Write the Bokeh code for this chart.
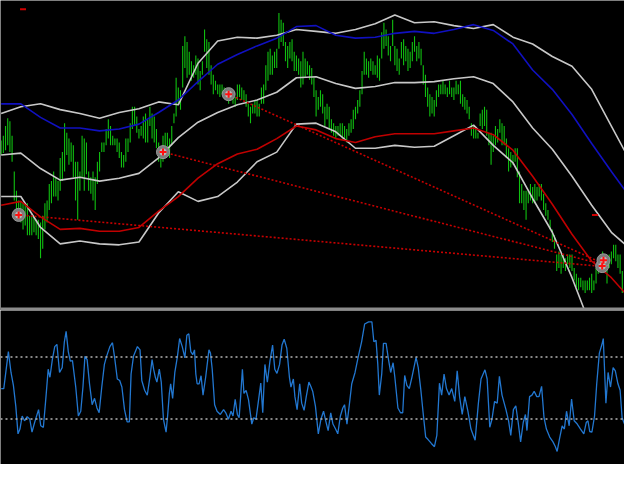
from bokeh.plotting import figure
from bokeh.layouts import column
from bokeh.models import Range1d, Span, BoxAnnotation
from bokeh.embed import file_html
from bokeh.resources import INLINE

# ---------------- price bars (points) ----------------
bar_high = [175,180,190,198,195,180,143,123,113,112,
            110,110,110,97,97,97,93,93,90,97,
            110,113,130,133,143,137,133,157,163,193,
            183,177,173,170,153,153,143,180,177,173,
            143,137,143,137,153,163,173,173,187,197,
            190,180,177,177,173,163,160,177,177,193,
            210,210,200,187,190,200,203,197,210,203,
            200,187,173,167,180,183,183,177,190,203,
            240,230,227,273,283,277,267,257,253,263,
            260,247,257,290,280,277,253,243,237,233,
            233,233,230,227,223,227,223,220,233,233,
            230,227,223,213,210,213,217,217,213,230,
            233,253,267,270,263,267,270,307,300,297,
            277,273,277,280,267,263,260,257,267,260,
            257,
            253,250,240,227,220,227,223,210,213,210,
            197,193,190,190,193,193,190,187,193,197,
            207,210,217,227,247,267,260,257,260,257,
            253,263,260,287,297,290,283,273,300,273,
            270,260,277,280,273,270,267,277,283,273,
            277,270,253,243,230,223,220,217,227,233,
            233,237,233,230,237,230,230,237,233,237,
            223,220,217,210,193,190,187,183,203,207,
            210,207,183,183,180,190,187,197,193,190,
            177,167,163,160,167,167,143,130,123,123,
            123,130,127,130,127,130,130,120,110,103,
            93,83,77,57,60,57,57,53,57,57,
            57,43,37,33,33,30,30,30,33,37,
            30,43,53,57,60,57,50,57,60,67,
            67,57,57,40]
bar_low = [160,162,165,170,163,153,113,97,93,90,
           83,87,77,77,77,80,77,73,53,63,
           83,90,103,110,117,117,113,123,133,143,
           160,150,153,137,113,93,123,137,123,140,
           123,120,113,103,130,143,163,163,170,177,
           170,170,170,163,157,147,147,153,163,173,
           187,190,183,177,180,177,173,173,190,177,
           173,167,153,147,153,160,160,157,170,193,
           200,213,207,230,250,240,243,237,240,243,
           233,227,243,267,250,243,233,223,227,223,
           220,223,220,217,213,217,213,210,217,220,
           217,217,210,200,193,203,203,200,200,213,
           213,227,237,243,243,250,250,270,277,273,
           257,250,260,257,247,247,243,230,233,240,
           243,
           238,233,220,200,207,210,203,190,197,187,
           183,180,177,180,180,177,177,173,180,183,
           187,197,203,210,223,243,243,240,247,243,
           243,240,237,260,270,273,263,257,273,253,
           247,243,260,253,257,247,250,257,267,257,
           260,253,233,220,210,200,203,200,210,220,
           223,223,223,220,223,220,217,223,223,213,
           210,207,203,197,180,177,177,177,190,187,
           190,180,170,150,163,170,173,183,170,170,
           157,143,147,150,153,137,110,110,103,93,
           110,113,110,110,113,117,113,103,97,93,
           83,70,63,40,43,37,43,40,47,43,
           40,30,23,20,23,20,17,20,20,17,
           20,27,37,40,43,40,27,43,47,53,
           50,43,37,17]

# ---------------- indicator lines (sampled every 9 bars) ----------------
line_t = list(range(0, 289, 9))
upper_band = [203,210,213,207,203,198,204,208,215,212,255,278,282,281,284,290,
              288,286,290,296,305,297,298,294,291,295,282,275,262,252,228,190,152]
middle_band = [160,162,146,134,137,133,136,141,157,178,194,204,212,217,225,240,
               241,234,229,231,235,235,236,239,241,234,215,188,166,138,108,80,62]
lower_band = [117,117,85,68,71,68,67,70,100,122,112,117,132,153,163,192,
              193,184,167,167,170,168,169,180,191,170,152,115,80,33,-20,-80,-140]
ma_red = [108,112,96,83,84,81,81,85,102,117,136,151,161,166,177,190,
          186,177,173,179,182,182,182,185,188,181,165,138,109,78,50,33,10]
ma_blue = [213,213,199,188,188,185,187,192,204,217,236,254,264,273,281,293,
           294,284,281,282,286,288,286,290,295,289,275,248,228,202,172,143,115]

# signals and trend lines
signal_t = [8, 74, 104, 274.8, 275.4]
signal_p = [98, 163, 223, 45, 51]
trend_t0 = [8, 74, 104]
trend_p0 = [98, 163, 223]
trend_t1 = [273, 273, 273]
trend_p1 = [45, 48, 50]
stop_t = [10, 271.5]
stop_p = [311, 98]

# ---------------- oscillator ----------------
osc_t = [0.0,1.2,3.3,4.5,5.6,6.7,7.7,8.6,9.6,10.7,
         11.9,13.1,14.1,15.3,17.1,18.1,19.3,20.5,21.5,22.3,
         23.4,24.5,25.5,26.7,27.9,28.9,29.7,30.7,31.6,32.6,
         34.1,35.3,36.4,37.4,38.3,39.3,40.4,41.6,42.7,43.8,
         44.8,46.0,47.2,48.2,49.7,50.9,51.9,53.1,54.2,55.2,
         56.4,57.6,58.6,59.4,60.5,62.3,63.5,64.3,65.6,66.8,
         68.0,69.0,69.7,70.5,71.2,72.3,73.2,74.2,75.4,76.1,
         76.9,77.5,78.4,79.4,80.6,81.6,82.8,84.0,84.9,85.8,
         86.7,87.6,88.4,89.0,89.6,90.5,91.4,92.3,93.5,95.0,
         95.7,96.5,97.6,98.7,100.2,101.7,102.7,103.9,105.1,106.0,
         107.0,108.0,108.8,109.5,110.3,111.0,112.0,113.1,114.6,115.5,
         116.5,117.5,118.7,119.6,120.6,121.7,122.9,124.1,125.1,126.1,
         127.3,128.4,129.4,130.6,131.8,132.5,133.6,134.3,135.3,136.5,
         137.4,138.5,139.5,140.7,141.7,142.5,
         143.7,145.0,146.2,147.4,148.4,149.5,150.7,151.7,152.9,153.9,
         155.1,156.2,157.0,158.1,159.1,160.3,161.8,163.3,164.8,166.2,
         168.0,169.5,170.4,171.4,172.2,172.9,174.0,174.8,176.0,177.1,
         178.1,179.2,180.0,181.4,182.6,183.6,184.5,185.5,186.6,187.8,
         189.7,190.7,191.9,193.0,194.1,195.2,196.7,198.1,199.2,200.4,
         201.4,202.5,203.6,204.8,206.0,207.4,208.5,209.6,210.8,212.0,
         213.4,214.8,216.7,218.2,219.4,221.2,222.2,223.4,224.4,225.6,
         226.8,227.8,229.0,230.8,232.0,233.0,234.2,235.3,236.4,237.5,
         238.7,239.7,240.4,241.6,242.7,243.7,244.9,245.9,247.1,248.2,
         249.3,250.8,252.3,253.4,254.2,255.3,256.5,257.5,258.5,259.7,
         260.8,262.0,263.4,264.9,266.4,267.5,268.3,269.1,270.1,271.3,
         272.3,273.5,274.6,275.3,276.5,277.5,278.6,279.8,280.8,282.0,
         283.0,283.9,285.0]
osc_v = [49.6,49.6,73.5,60,51.7,38.1,20.4,23.5,31.9,28.8,
         31.5,29.8,21.5,27.7,36,25.6,24.6,44.4,62.1,56.9,
         68.3,76.7,78.1,60,63.1,79.8,86.5,73.5,67.3,67.7,
         50.6,31.9,35,50.6,70.4,68.3,52.7,39.2,43.3,37.1,
         34,50.6,65.2,70.4,76.7,79.2,69.4,55.8,54.8,50.6,
         36,28.1,28.1,59,70.4,76.7,74.6,54.8,48.5,45.4,
         56.9,68.3,62.1,56.9,53.8,62.1,53.8,29.8,21.5,31.9,
         46.5,52.7,43.3,60,70.4,81.9,76.7,69.4,84,85,
         73.5,71.5,74.6,59,52.7,52.7,57.9,45.4,56.9,74.6,
         72.5,62.1,39.2,35,32.9,36,34,29.8,35,31.9,
         42.7,32.9,30.8,44.4,62.1,46.5,48.5,42.3,26.7,30.8,
         29.8,40.2,53.1,34,65.2,53.8,67.3,77.7,62.1,59.4,
         65.2,77.7,81.5,75.6,56.9,50.6,55.8,44.4,36,52.7,
         40.2,35.6,44.4,53.8,50.6,47.5,
         38.1,20.4,29.8,35,28.8,22.5,34,26.7,23.5,20.4,
         31.9,37.1,39.2,26.7,38.1,52.7,60,70.4,79.8,91.3,
         92.7,92.7,79.8,80.8,65.2,45.4,59,78.8,78.8,68.3,
         60,66.3,56.9,37.1,34,34,58.1,51.7,49.6,56.9,
         69.8,63.1,48.5,32.9,18.3,16.7,14.2,12.1,19.4,53.1,
         45.4,59,49.6,45.4,49.6,41.3,61,44.4,32.9,44.4,
         35,23.5,16.3,40.2,55.8,61.7,55.8,24.6,29.8,41.3,
         40.2,57.5,45.4,36,28.8,19.4,36,38.5,27.7,15.2,
         27.7,32.9,22.5,44.4,45.4,47.9,44.4,44.4,51,30.8,
         23.5,18.3,15.2,12.1,9,17.3,25.6,23.5,35,25.6,
         42.9,28.8,26.7,23.5,20.4,27.7,28.8,21.9,21.5,31.9,
         52.7,72.5,77.7,81.9,40.2,60,50.6,63.1,61,52.7,
         48.5,30.8,26.7]
osc_levels = [70, 30]

W = 624
H1 = 310
H2 = 154
n = len(bar_high)
bar_t = list(range(n))
x_rng = Range1d(-0.3, n)

def base(h, yr):
    p = figure(width=W, height=h, x_range=x_rng, y_range=yr,
               x_axis_type=None, y_axis_type=None, toolbar_location=None,
               output_backend="svg", min_border=0)
    p.background_fill_color = "black"
    p.border_fill_color = "black"
    p.outline_line_color = None
    p.grid.visible = False
    return p

p1 = base(H1, Range1d(-1, 320))
p1.segment(x0=bar_t, y0=bar_low, x1=bar_t, y1=bar_high, line_color="#10C010", line_width=1.1)

p1.line(line_t, upper_band, line_color="#C8C8C8", line_width=1.6)
p1.line(line_t, middle_band, line_color="#C8C8C8", line_width=1.6)
p1.line(line_t, lower_band, line_color="#C8C8C8", line_width=1.6)
p1.line(line_t, ma_blue, line_color="#1010C0", line_width=1.6)
p1.line(line_t, ma_red, line_color="#C00000", line_width=1.6)

p1.segment(x0=trend_t0, y0=trend_p0, x1=trend_t1, y1=trend_p1,
           line_color="#C80000", line_width=1.6, line_dash="2 2")

p1.scatter(signal_t, signal_p, size=13, marker="circle", fill_color="#7c7c7c", line_color="#9a9a9a")
p1.scatter(signal_t, signal_p, size=7, marker="circle", fill_color="#b8b8b8", line_color=None)
p1.scatter(signal_t, signal_p, size=7, marker="cross", line_color="#FF1010", line_width=2)
p1.scatter(stop_t, stop_p, size=6, marker="dash", line_color="#D00000", line_width=2)

p1.add_layout(BoxAnnotation(top=2, fill_color="#8c8c8c", fill_alpha=1, line_alpha=0))

p2 = base(H2, Range1d(0.6, 100))
for lv in osc_levels:
    p2.add_layout(Span(location=lv, dimension="width", line_color="#B4B4B4",
                       line_width=1.4, line_dash="2 3"))
p2.line(osc_t, osc_v, line_color="#2277D0", line_width=1.3)

layout = column(p1, p2, spacing=0)
open("out.html", "w").write(file_html(layout, INLINE))
